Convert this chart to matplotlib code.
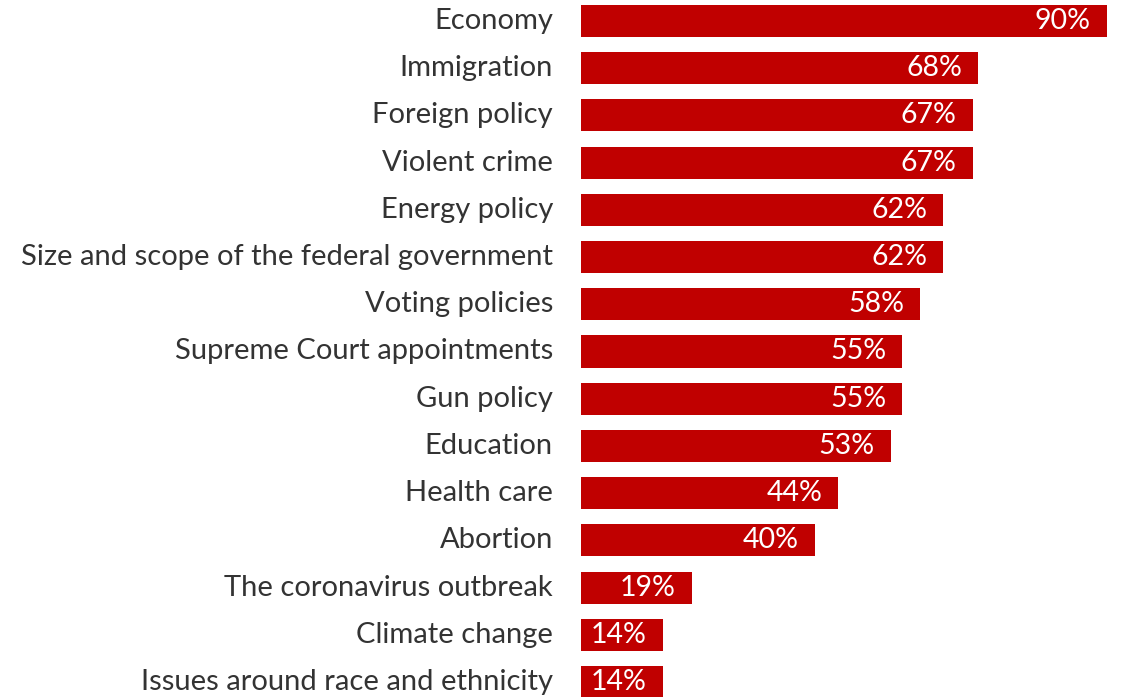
import matplotlib.pyplot as plt

issues = [
    "Economy",
    "Immigration",
    "Foreign policy",
    "Violent crime",
    "Energy policy",
    "Size and scope of the federal government",
    "Voting policies",
    "Supreme Court appointments",
    "Gun policy",
    "Education",
    "Health care",
    "Abortion",
    "The coronavirus outbreak",
    "Climate change",
    "Issues around race and ethnicity",
]
pct = [90, 68, 67, 67, 62, 62, 58, 55, 55, 53, 44, 40, 19, 14, 14]

plt.rcParams["font.family"] = ["Lato", "DejaVu Sans"]

fig = plt.figure(figsize=(11.22, 6.97), dpi=100)
ax = fig.add_axes([581 / 1122, 0, 526 / 1122, 1])

y = list(range(len(issues)))
ax.barh(y, pct, height=0.68, color="#c00000")

ax.set_xlim(0, 90)
ax.set_ylim(14.318, -0.445)

# labels on the left, values inside the bars
for i, (name, v) in enumerate(zip(issues, pct)):
    ax.text(-28 / 5.844, i, name, ha="right", va="center",
            fontsize=21, color="#333333")
    ax.text(v - 16 / 5.844, i, f"{v}%", ha="right", va="center",
            fontsize=20.5, color="white")

ax.axis("off")

fig.savefig("out.png", dpi=100)
plt.close(fig)
